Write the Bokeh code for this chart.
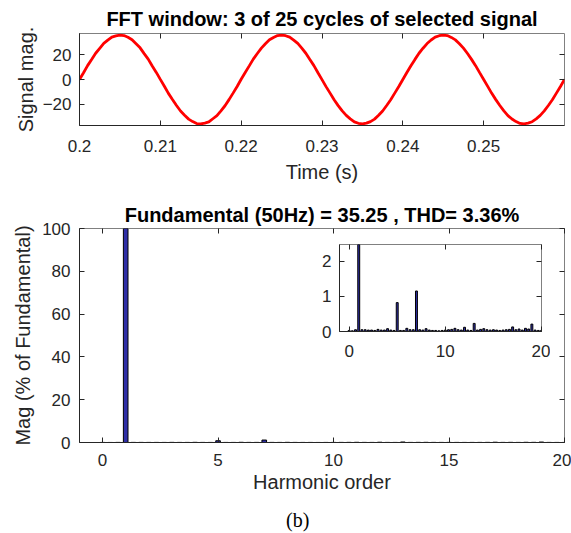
from bokeh.plotting import figure
from bokeh.layouts import column
from bokeh.models import (Range1d, FixedTicker, NumeralTickFormatter, LinearAxis,
                          Title, ColumnDataSource, CustomJSTickFormatter, Div)
from bokeh.embed import file_html
from bokeh.resources import INLINE

# ---------------- data ----------------
time_s = [
    0.2000, 0.2005, 0.2010, 0.2015, 0.2020, 0.2025, 0.2030, 0.2035, 0.2040, 0.2045,
    0.2050, 0.2055, 0.2060, 0.2065, 0.2070, 0.2075, 0.2080, 0.2085, 0.2090, 0.2095,
    0.2100, 0.2105, 0.2110, 0.2115, 0.2120, 0.2125, 0.2130, 0.2135, 0.2140, 0.2145,
    0.2150, 0.2155, 0.2160, 0.2165, 0.2170, 0.2175, 0.2180, 0.2185, 0.2190, 0.2195,
    0.2200, 0.2205, 0.2210, 0.2215, 0.2220, 0.2225, 0.2230, 0.2235, 0.2240, 0.2245,
    0.2250, 0.2255, 0.2260, 0.2265, 0.2270, 0.2275, 0.2280, 0.2285, 0.2290, 0.2295,
    0.2300, 0.2305, 0.2310, 0.2315, 0.2320, 0.2325, 0.2330, 0.2335, 0.2340, 0.2345,
    0.2350, 0.2355, 0.2360, 0.2365, 0.2370, 0.2375, 0.2380, 0.2385, 0.2390, 0.2395,
    0.2400, 0.2405, 0.2410, 0.2415, 0.2420, 0.2425, 0.2430, 0.2435, 0.2440, 0.2445,
    0.2450, 0.2455, 0.2460, 0.2465, 0.2470, 0.2475, 0.2480, 0.2485, 0.2490, 0.2495,
    0.2500, 0.2505, 0.2510, 0.2515, 0.2520, 0.2525, 0.2530, 0.2535, 0.2540, 0.2545,
    0.2550, 0.2555, 0.2560, 0.2565, 0.2570, 0.2575, 0.2580, 0.2585, 0.2590, 0.2595,
    0.2600,
]
signal_mag = [
    0.0, 5.5, 11.3, 16.3, 21.4, 25.4, 29.4, 32.1, 34.6, 35.6,
    36.2, 35.8, 34.4, 32.4, 29.1, 25.8, 21.1, 16.6, 11.0, 5.8,
    0.1, -5.5, -11.3, -16.3, -21.2, -25.7, -29.1, -32.3, -34.3, -35.9,
    -36.1, -35.5, -34.6, -32.0, -29.5, -25.5, -21.4, -16.4, -11.1, -5.7,
    0.2, 5.7, 11.1, 16.6, 21.2, 25.6, 29.2, 32.4, 34.3, 35.8,
    36.1, 35.7, 34.5, 32.1, 29.4, 25.5, 21.4, 16.3, 11.3, 5.5,
    -0.1, -5.8, -11.1, -16.5, -21.3, -25.6, -29.3, -32.1, -34.5, -35.7,
    -36.2, -35.6, -34.3, -32.3, -29.2, -25.7, -21.2, -16.5, -11.1, -5.7,
    0.0, 5.7, 11.2, 16.4, 21.4, 25.5, 29.3, 32.2, 34.5, 35.7,
    36.2, 35.8, 34.3, 32.3, 29.2, 25.6, 21.2, 16.4, 11.3, 5.6,
    0.0, -5.6, -11.3, -16.4, -21.2, -25.6, -29.4, -32.2, -34.3, -35.8,
    -36.1, -35.6, -34.4, -32.1, -29.3, -25.6, -21.2, -16.5, -11.1, -5.7,
    0.1,
]

harmonic_order = [
    0.0, 0.333, 0.667, 1.0, 1.333, 1.667, 2.0, 2.333, 2.667, 3.0,
    3.333, 3.667, 4.0, 4.333, 4.667, 5.0, 5.333, 5.667, 6.0, 6.333,
    6.667, 7.0, 7.333, 7.667, 8.0, 8.333, 8.667, 9.0, 9.333, 9.667,
    10.0, 10.333, 10.667, 11.0, 11.333, 11.667, 12.0, 12.333, 12.667, 13.0,
    13.333, 13.667, 14.0, 14.333, 14.667, 15.0, 15.333, 15.667, 16.0, 16.333,
    16.667, 17.0, 17.333, 17.667, 18.0, 18.333, 18.667, 19.0, 19.333, 19.667,
    20.0,
]
mag_pct_fundamental = [
    0.03, 0.02, 0.05, 100.0, 0.05, 0.05, 0.04, 0.04, 0.03, 0.06,
    0.04, 0.04, 0.08, 0.04, 0.03, 0.82, 0.03, 0.03, 0.09, 0.05,
    0.05, 1.15, 0.05, 0.04, 0.08, 0.04, 0.03, 0.03, 0.02, 0.03,
    0.04, 0.05, 0.06, 0.09, 0.05, 0.04, 0.12, 0.04, 0.03, 0.23,
    0.04, 0.06, 0.08, 0.05, 0.04, 0.05, 0.04, 0.03, 0.04, 0.05,
    0.06, 0.13, 0.05, 0.07, 0.04, 0.09, 0.07, 0.21, 0.04, 0.03,
    0.03,
]

time_ticks = [0.2, 0.21, 0.22, 0.23, 0.24, 0.25]
signal_ticks = [-20, 0, 20]
order_ticks = [0, 5, 10, 15, 20]
mag_ticks = [0, 20, 40, 60, 80, 100]
inset_order_ticks = [0, 10, 20]
inset_mag_ticks = [0, 1, 2]

top_title = "FFT window: 3 of 25 cycles of selected signal"
bottom_title = "Fundamental (50Hz) = 35.25 , THD= 3.36%"
caption = "(b)"

# ---------------- styling helpers ----------------
FONT = "Liberation Sans"
TXT = "#262626"
TICK_PX = "17px"
LABEL_PX = "20px"


def style(p, xticks, yticks):
    """Style the main axes, add mirrored (label-less) ticks on top/right.
    Returns the main (below, left) axes."""
    p.outline_line_color = "#808080"
    p.outline_line_width = 1
    p.xgrid.visible = False
    p.ygrid.visible = False
    xax = p.below[0]
    yax = p.left[0]
    for ax, ticks in ((xax, xticks), (yax, yticks)):
        ax.ticker = FixedTicker(ticks=ticks)
        ax.major_tick_in = 5
        ax.major_tick_out = 0
        ax.minor_tick_line_color = None
        ax.axis_line_color = TXT
        ax.major_tick_line_color = TXT
        ax.major_label_text_font = FONT
        ax.major_label_text_font_size = TICK_PX
        ax.major_label_text_color = TXT
        ax.axis_label_text_font = FONT
        ax.axis_label_text_font_size = LABEL_PX
        ax.axis_label_text_font_style = "normal"
        ax.axis_label_text_color = TXT
    for loc, ticks in (("above", xticks), ("right", yticks)):
        m = LinearAxis(ticker=FixedTicker(ticks=ticks),
                       formatter=CustomJSTickFormatter(code="return ''"),
                       major_tick_in=5, major_tick_out=0,
                       minor_tick_line_color=None, axis_line_color=None,
                       major_tick_line_color=TXT, major_label_standoff=0,
                       major_label_text_font_size="1px")
        p.add_layout(m, loc)
    return xax, yax


# ---------------- top: time signal ----------------
p1 = figure(width=571, height=190, output_backend="svg", toolbar_location=None,
            x_range=Range1d(0.2, 0.26), y_range=Range1d(-37.5, 37.5),
            min_border_left=79, min_border_right=7, min_border_top=33,
            min_border_bottom=65)
p1.title = Title(text=top_title, align="center", text_font=FONT,
                 text_font_size="20px", text_font_style="bold",
                 text_color="black", standoff=7)
p1.line(x="t", y="v", source=ColumnDataSource(dict(t=time_s, v=signal_mag)),
        line_color="#ff0000", line_width=2.8)
x1, y1 = style(p1, time_ticks, signal_ticks)
x1.axis_label = "Time (s)"
y1.axis_label = "Signal mag."
x1.formatter = NumeralTickFormatter(format="0.[00]")
x1.major_label_standoff = 14
x1.axis_label_standoff = 6
y1.major_label_standoff = 8
y1.axis_label_standoff = 3

# ---------------- bottom: harmonic spectrum ----------------
spec = ColumnDataSource(dict(h=harmonic_order, m=mag_pct_fundamental))

p2 = figure(width=571, height=343, output_backend="svg", toolbar_location=None,
            x_range=Range1d(-1, 20), y_range=Range1d(0, 100),
            min_border_left=79, min_border_right=7, min_border_top=38,
            min_border_bottom=91)
p2.title = Title(text=bottom_title, align="center", text_font=FONT,
                 text_font_size="20px", text_font_style="bold",
                 text_color="black", standoff=6)
p2.vbar(x="h", top="m", bottom=0, width=0.2, source=spec,
        fill_color="#2e2ea6", line_color="black", line_width=1)
x2, y2 = style(p2, order_ticks, mag_ticks)
x2.axis_label = "Harmonic order"
y2.axis_label = "Mag (% of Fundamental)"
x2.major_label_standoff = 11
x2.axis_label_standoff = 2
y2.major_label_standoff = 9
y2.axis_label_standoff = 5

# ---------------- inset: zoomed spectrum ----------------
p3 = figure(width=245, height=133, output_backend="svg", toolbar_location=None,
            x_range=Range1d(-1, 20), y_range=Range1d(0, 2.47),
            min_border_left=34, min_border_right=9, min_border_top=6,
            min_border_bottom=40,
            background_fill_alpha=0, border_fill_alpha=0,
            styles={"position": "absolute", "left": "305px", "top": "238px"})
p3.vbar(x="h", top="m", bottom=0, width=0.2, source=spec,
        fill_color="#2e2ea6", line_color="black", line_width=1)
x3, y3 = style(p3, inset_order_ticks, inset_mag_ticks)
x3.major_label_standoff = 13
y3.major_label_standoff = 8

# ---------------- caption ----------------
cap = Div(text=('<div style="font-family:\'Liberation Serif\',serif;font-size:20px;'
                'line-height:24px;text-align:center;color:black;margin:0;padding:0;">'
                + caption + '</div>'),
          width=40, height=24,
          styles={"position": "absolute", "left": "286px", "top": "506px",
                  "font-family": "Liberation Serif", "font-size": "20px",
                  "margin": "0", "padding": "0", "overflow": "visible"})

layout = column(p1, p2, spacing=0)

open("out.html", "w").write(file_html([layout, p3, cap], INLINE))
